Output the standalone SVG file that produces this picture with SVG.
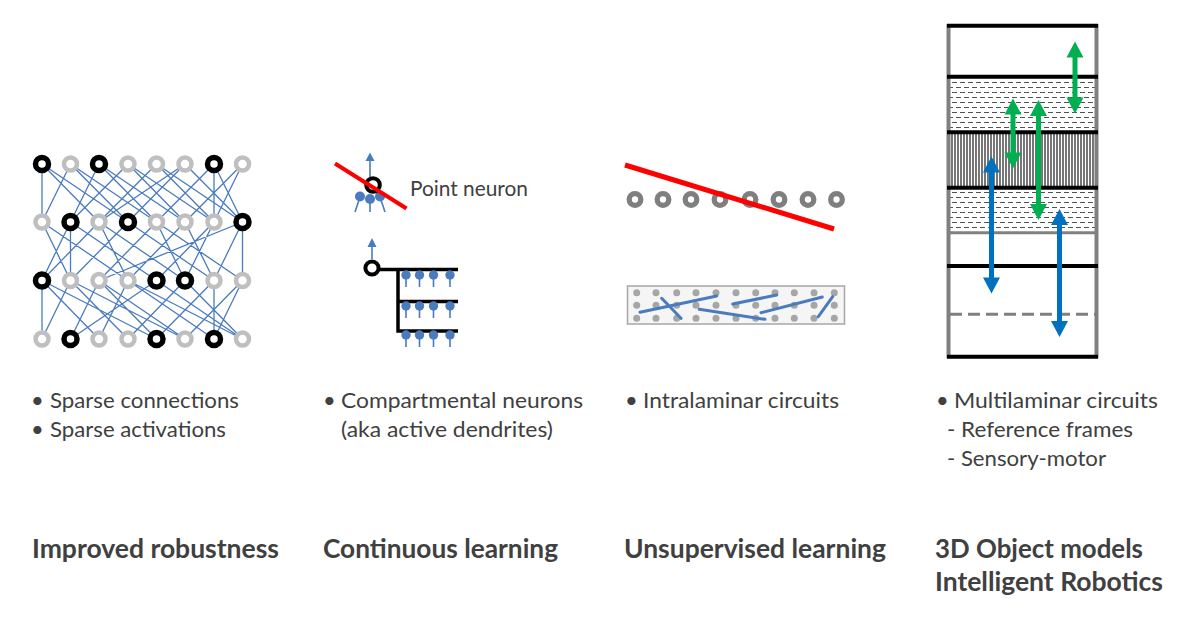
<svg xmlns="http://www.w3.org/2000/svg" width="1200" height="638" viewBox="0 0 1200 638">
<style>
.t{font-family:Lato,"Open Sans","Liberation Sans",sans-serif;font-size:22px;fill:#404040}
.b{font-family:Lato,"Open Sans","Liberation Sans",sans-serif;font-size:26px;font-weight:bold;fill:#404040}
.edge{stroke:#4a7bbf;stroke-width:1.3;fill:none}
.gr{fill:#fff;stroke:#bfbfbf;stroke-width:4.5}
.bk{fill:#fff;stroke:#000;stroke-width:5.5}
.dr{fill:#fff;stroke:#7f7f7f;stroke-width:5.3}
.syn{fill:#4a7bbf}
.stem{stroke:#4a7bbf;stroke-width:1.6;fill:none}
.dend{stroke:#000;stroke-width:3.5;fill:none}
.gd{fill:#a6a6a6}
.bl{stroke:#4a7bbf;stroke-width:3;stroke-linecap:round}
.lay{stroke:#000;stroke-width:4}
.green{fill:#00b050}
.blue{fill:#0070c0}
</style>
<defs>
<pattern id="hdash" width="8" height="10" patternUnits="userSpaceOnUse">
<rect width="8" height="10" fill="#fff"/>
<path d="M0 2.5H5M4 7.5H8M0 7.5H1" stroke="#404040" stroke-width="0.9"/>
</pattern>
<pattern id="vline" width="3" height="4" patternUnits="userSpaceOnUse">
<rect width="3" height="4" fill="#fff"/>
<path d="M1 0V4" stroke="#1a1a1a" stroke-width="1.2"/>
</pattern>
</defs>
<rect width="1200" height="638" fill="#fff"/>

<g id="connectors">
<path class="edge" d="M42 164L42 222M42 164L99 222M42 164L128 222M70.5 164L42 222M70.5 164L128 222M70.5 164L156.5 222M99 164L70.5 222M99 164L156.5 222M99 164L185 222M128 164L70.5 222M128 164L185 222M128 164L214 222M156.5 164L99 222M156.5 164L214 222M156.5 164L242.5 222M185 164L128 222M185 164L242.5 222M185 164L99 222M214 164L214 222M214 164L156.5 222M214 164L242.5 222M242.5 164L185 222M242.5 164L214 222"/>
<path class="edge" d="M42 222L70.5 280.5M42 222L128 280.5M70.5 222L42 280.5M70.5 222L70.5 280.5M70.5 222L156.5 280.5M99 222L42 280.5M99 222L185 280.5M99 222L128 280.5M128 222L70.5 280.5M128 222L214 280.5M156.5 222L99 280.5M156.5 222L242.5 280.5M156.5 222L185 280.5M185 222L128 280.5M185 222L214 280.5M214 222L156.5 280.5M214 222L185 280.5M242.5 222L242.5 280.5M242.5 222L99 280.5M242.5 222L214 280.5"/>
<path class="edge" d="M42 280.5L42 339M42 280.5L99 339M42 280.5L156.5 339M70.5 280.5L42 339M70.5 280.5L128 339M70.5 280.5L185 339M99 280.5L70.5 339M99 280.5L185 339M99 280.5L156.5 339M128 280.5L99 339M128 280.5L214 339M128 280.5L242.5 339M156.5 280.5L70.5 339M156.5 280.5L242.5 339M185 280.5L128 339M185 280.5L242.5 339M214 280.5L214 339M214 280.5L156.5 339M242.5 280.5L185 339M242.5 280.5L214 339"/>
</g>

<g id="network-nodes">
<circle class="bk" cx="42" cy="164" r="6.5"/><circle class="gr" cx="70.5" cy="164" r="6.5"/><circle class="bk" cx="99" cy="164" r="6.5"/><circle class="gr" cx="128" cy="164" r="6.5"/><circle class="gr" cx="156.5" cy="164" r="6.5"/><circle class="gr" cx="185" cy="164" r="6.5"/><circle class="bk" cx="214" cy="164" r="6.5"/><circle class="gr" cx="242.5" cy="164" r="6.5"/>
<circle class="gr" cx="42" cy="222" r="6.5"/><circle class="bk" cx="70.5" cy="222" r="6.5"/><circle class="gr" cx="99" cy="222" r="6.5"/><circle class="bk" cx="128" cy="222" r="6.5"/><circle class="gr" cx="156.5" cy="222" r="6.5"/><circle class="gr" cx="185" cy="222" r="6.5"/><circle class="gr" cx="214" cy="222" r="6.5"/><circle class="bk" cx="242.5" cy="222" r="6.5"/>
<circle class="bk" cx="42" cy="280.5" r="6.5"/><circle class="gr" cx="70.5" cy="280.5" r="6.5"/><circle class="gr" cx="99" cy="280.5" r="6.5"/><circle class="gr" cx="128" cy="280.5" r="6.5"/><circle class="bk" cx="156.5" cy="280.5" r="6.5"/><circle class="bk" cx="185" cy="280.5" r="6.5"/><circle class="gr" cx="214" cy="280.5" r="6.5"/><circle class="gr" cx="242.5" cy="280.5" r="6.5"/>
<circle class="gr" cx="42" cy="339" r="6.5"/><circle class="bk" cx="70.5" cy="339" r="6.5"/><circle class="gr" cx="99" cy="339" r="6.5"/><circle class="gr" cx="128" cy="339" r="6.5"/><circle class="bk" cx="156.5" cy="339" r="6.5"/><circle class="gr" cx="185" cy="339" r="6.5"/><circle class="bk" cx="214" cy="339" r="6.5"/><circle class="gr" cx="242.5" cy="339" r="6.5"/>
</g>

<g id="point-neuron">
<line x1="370" y1="177" x2="370" y2="160" class="stem"/>
<polygon points="370,152.5 374.5,161 365.5,161" class="syn"/>
<path class="stem" d="M360 197L355 212M370 199L370 212M380 197L385 212"/>
<circle class="syn" cx="360" cy="196.5" r="5"/><circle class="syn" cx="370" cy="199" r="5"/><circle class="syn" cx="380" cy="196.5" r="5"/>
<circle cx="373" cy="185" r="6.8" fill="none" stroke="#000" stroke-width="4"/>
<line x1="335" y1="163.5" x2="406.5" y2="208.5" stroke="#ff0000" stroke-width="4"/>
<text class="t" x="410" y="196" font-size="20" textLength="118" lengthAdjust="spacingAndGlyphs">Point neuron</text>
</g>

<g id="compartmental-neuron">
<line x1="372" y1="259" x2="372" y2="246" class="stem"/>
<polygon points="372,238 376.5,247 367.5,247" class="syn"/>
<path class="dend" d="M378 269.5H458M398 269.5V331M398 301.5H458M396.3 331H458"/>
<circle cx="372" cy="268" r="6.6" fill="#fff" stroke="#000" stroke-width="4"/>
<path class="stem" d="M406 275V287M419.5 275V287M433.5 275V287M450 275V287M406 306V318M419.5 306V318M433.5 306V318M450 306V318M406 335V347M419.5 335V347M433.5 335V347M450 335V347"/>
<circle class="syn" cx="406" cy="275" r="4.7"/><circle class="syn" cx="419.5" cy="275" r="4.7"/><circle class="syn" cx="433.5" cy="275" r="4.7"/><circle class="syn" cx="450" cy="275" r="4.7"/>
<circle class="syn" cx="406" cy="306" r="4.7"/><circle class="syn" cx="419.5" cy="306" r="4.7"/><circle class="syn" cx="433.5" cy="306" r="4.7"/><circle class="syn" cx="450" cy="306" r="4.7"/>
<circle class="syn" cx="406" cy="335" r="4.7"/><circle class="syn" cx="419.5" cy="335" r="4.7"/><circle class="syn" cx="433.5" cy="335" r="4.7"/><circle class="syn" cx="450" cy="335" r="4.7"/>
</g>

<g id="layer-neurons">
<circle class="dr" cx="635" cy="199.5" r="5.8"/><circle class="dr" cx="663" cy="199.5" r="5.8"/><circle class="dr" cx="691" cy="199.5" r="5.8"/><circle class="dr" cx="720" cy="199.5" r="5.8"/><circle class="dr" cx="750" cy="199.5" r="5.8"/><circle class="dr" cx="779" cy="199.5" r="5.8"/><circle class="dr" cx="808" cy="199.5" r="5.8"/><circle class="dr" cx="836.5" cy="199.5" r="5.8"/>
<line x1="625" y1="165" x2="834" y2="229" stroke="#ff0000" stroke-width="5"/>
</g>

<g id="intralaminar-circuit">
<rect x="627.5" y="286" width="217" height="38" fill="#f5f5f5" stroke="#a6a6a6" stroke-width="1.5"/>
<g class="gd">
<circle cx="636.7" cy="292.7" r="3.5"/><circle cx="656" cy="292.7" r="3.5"/><circle cx="676.7" cy="292.7" r="3.5"/><circle cx="696" cy="292.7" r="3.5"/><circle cx="716" cy="292.7" r="3.5"/><circle cx="736" cy="292.7" r="3.5"/><circle cx="755.7" cy="292.7" r="3.5"/><circle cx="775" cy="292.7" r="3.5"/><circle cx="794.3" cy="292.7" r="3.5"/><circle cx="814" cy="292.7" r="3.5"/><circle cx="834.3" cy="292.7" r="3.5"/>
<circle cx="636.7" cy="305.3" r="3.5"/><circle cx="656" cy="305.3" r="3.5"/><circle cx="676.7" cy="305.3" r="3.5"/><circle cx="696" cy="305.3" r="3.5"/><circle cx="716" cy="305.3" r="3.5"/><circle cx="736" cy="305.3" r="3.5"/><circle cx="755.7" cy="305.3" r="3.5"/><circle cx="775" cy="305.3" r="3.5"/><circle cx="794.3" cy="305.3" r="3.5"/><circle cx="814" cy="305.3" r="3.5"/><circle cx="834.3" cy="305.3" r="3.5"/>
<circle cx="636.7" cy="318.3" r="3.5"/><circle cx="656" cy="318.3" r="3.5"/><circle cx="676.7" cy="318.3" r="3.5"/><circle cx="696" cy="318.3" r="3.5"/><circle cx="716" cy="318.3" r="3.5"/><circle cx="736" cy="318.3" r="3.5"/><circle cx="755.7" cy="318.3" r="3.5"/><circle cx="775" cy="318.3" r="3.5"/><circle cx="794.3" cy="318.3" r="3.5"/><circle cx="814" cy="318.3" r="3.5"/><circle cx="834.3" cy="318.3" r="3.5"/>
</g>
<path class="bl" d="M640 312.3L716.7 296M661.7 298.3L681 318.3M699.3 309.3L765 319.3M732.7 304L776.7 295M761 312.7L822.3 297M818.3 316.7L832.7 296.7"/>
</g>

<g id="cortical-column">
<rect x="948" y="77" width="149" height="55" fill="url(#hdash)"/>
<rect x="948" y="132" width="149" height="56" fill="url(#vline)"/>
<rect x="948" y="188" width="149" height="45" fill="url(#hdash)"/>
<line x1="948.5" y1="24" x2="948.5" y2="358" stroke="#808080" stroke-width="4"/>
<line x1="1096.5" y1="24" x2="1096.5" y2="358" stroke="#808080" stroke-width="4"/>
<line x1="948" y1="232.7" x2="1097" y2="232.7" stroke="#808080" stroke-width="3"/>
<line x1="950" y1="314.3" x2="1096" y2="314.3" stroke="#808080" stroke-width="3" stroke-dasharray="12 6"/>
<path class="lay" d="M947 25.7H1098M947 76.7H1098M947 132.3H1098M947 187.7H1098M947 266H1098M947 356.7H1098"/>
<path class="green" d="M1075 41.5L1083.5 57.5L1077.5 57.5L1077.5 97.5L1083.5 97.5L1075 113.5L1066.5 97.5L1072.5 97.5L1072.5 57.5L1066.5 57.5Z"/>
<path class="green" d="M1013 98.5L1021.5 114.5L1015.5 114.5L1015.5 152.5L1021.5 152.5L1013 168.5L1004.5 152.5L1010.5 152.5L1010.5 114.5L1004.5 114.5Z"/>
<path class="green" d="M1038.5 100L1047 116L1041 116L1041 204L1047 204L1038.5 220L1030 204L1036 204L1036 116L1030 116Z"/>
<path class="blue" d="M991.5 156.5L1000 172.5L994 172.5L994 277.5L1000 277.5L991.5 293.5L983 277.5L989 277.5L989 172.5L983 172.5Z"/>
<path class="blue" d="M1059.5 209L1068 225L1062 225L1062 321L1068 321L1059.5 337L1051 321L1057 321L1057 225L1051 225Z"/>
</g>

<g id="bullets">
<text class="t" x="31" y="408">•</text>
<text class="t" x="50" y="408" textLength="189" lengthAdjust="spacingAndGlyphs">Sparse connections</text>
<text class="t" x="31" y="437">•</text>
<text class="t" x="50" y="437" textLength="176" lengthAdjust="spacingAndGlyphs">Sparse activations</text>
<text class="t" x="323" y="408">•</text>
<text class="t" x="341" y="408" textLength="242" lengthAdjust="spacingAndGlyphs">Compartmental neurons</text>
<text class="t" x="341" y="437" textLength="212" lengthAdjust="spacingAndGlyphs">(aka active dendrites)</text>
<text class="t" x="625" y="408">•</text>
<text class="t" x="643" y="408" textLength="196" lengthAdjust="spacingAndGlyphs">Intralaminar circuits</text>
<text class="t" x="936" y="408">•</text>
<text class="t" x="954" y="408" textLength="204" lengthAdjust="spacingAndGlyphs">Multilaminar circuits</text>
<text class="t" x="947" y="437" textLength="186" lengthAdjust="spacingAndGlyphs">- Reference frames</text>
<text class="t" x="947" y="466" textLength="159" lengthAdjust="spacingAndGlyphs">- Sensory-motor</text>
</g>

<g id="outcomes">
<text class="b" x="32" y="558" textLength="247" lengthAdjust="spacingAndGlyphs">Improved robustness</text>
<text class="b" x="323" y="558" textLength="235" lengthAdjust="spacingAndGlyphs">Continuous learning</text>
<text class="b" x="624" y="558" textLength="262" lengthAdjust="spacingAndGlyphs">Unsupervised learning</text>
<text class="b" x="935" y="558" textLength="208" lengthAdjust="spacingAndGlyphs">3D Object models</text>
<text class="b" x="935" y="591" textLength="228" lengthAdjust="spacingAndGlyphs">Intelligent Robotics</text>
</g>
</svg>
